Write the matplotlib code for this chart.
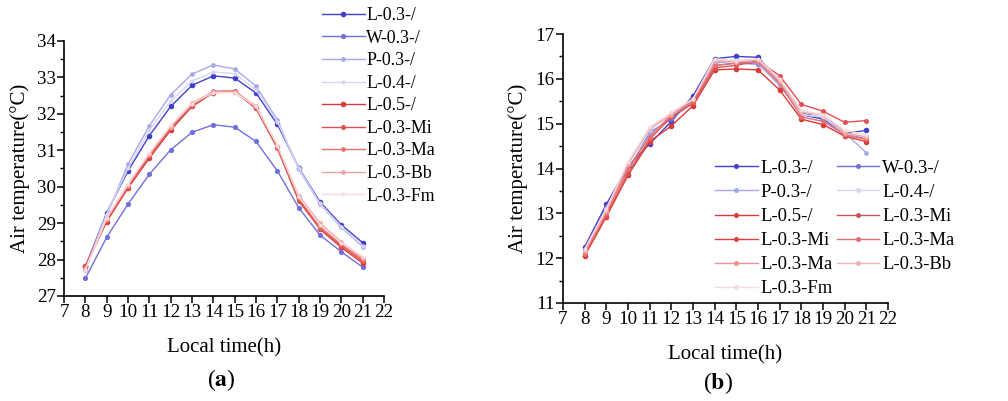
import numpy as np
import matplotlib
matplotlib.use("Agg")
import matplotlib.pyplot as plt
from matplotlib.lines import Line2D
from matplotlib.ticker import MultipleLocator

plt.rcParams['font.family'] = ['Liberation Serif', 'DejaVu Serif']
plt.rcParams['mathtext.fontset'] = 'stix'

hours = list(range(8, 22))

names = ['L-0.3-/', 'W-0.3-/', 'P-0.3-/', 'L-0.4-/', 'L-0.5-/',
         'L-0.3-Mi', 'L-0.3-Ma', 'L-0.3-Bb', 'L-0.3-Fm']
colors = ['#4040cc', '#7070da', '#a8a8ea', '#d6d6f3', '#d93a3a',
          '#e05252', '#e87070', '#f0a4a4', '#f7dada']
msizes = [3.0, 2.7, 2.4, 2.0, 3.0, 2.6, 2.4, 2.4, 1.8]

# (a) summer air temperature
temp_a = {
    'L-0.3-/':  [27.80, 29.28, 30.43, 31.40, 32.20, 32.78, 33.04, 32.98, 32.57, 31.71, 30.52, 29.58, 28.95, 28.46],
    'W-0.3-/':  [27.48, 28.61, 29.52, 30.34, 31.01, 31.49, 31.70, 31.63, 31.24, 30.43, 29.42, 28.67, 28.21, 27.79],
    'P-0.3-/':  [27.72, 29.20, 30.62, 31.67, 32.52, 33.09, 33.34, 33.23, 32.76, 31.83, 30.48, 29.52, 28.88, 28.35],
    'L-0.4-/':  [27.75, 29.25, 30.50, 31.55, 32.35, 32.90, 33.15, 33.10, 32.65, 31.78, 30.50, 29.54, 28.90, 28.38],
    'L-0.5-/':  [27.82, 29.04, 29.96, 30.78, 31.55, 32.20, 32.58, 32.60, 32.15, 31.08, 29.66, 28.83, 28.33, 27.90],
    'L-0.3-Mi': [27.80, 29.08, 30.00, 30.85, 31.60, 32.22, 32.60, 32.62, 32.15, 31.05, 29.60, 28.85, 28.38, 27.95],
    'L-0.3-Ma': [27.78, 29.10, 30.02, 30.88, 31.62, 32.25, 32.62, 32.63, 32.18, 31.10, 29.70, 28.90, 28.42, 28.00],
    'L-0.3-Bb': [27.75, 29.12, 30.05, 30.90, 31.65, 32.30, 32.60, 32.60, 32.22, 31.12, 29.75, 29.00, 28.48, 28.05],
    'L-0.3-Fm': [27.72, 29.15, 30.08, 30.92, 31.68, 32.28, 32.58, 32.58, 32.20, 31.15, 29.72, 28.95, 28.45, 28.08],
}

# (b) winter air temperature
temp_b = {
    'L-0.3-/':  [12.25, 13.20, 14.05, 14.55, 15.05, 15.62, 16.45, 16.50, 16.48, 15.95, 15.20, 15.10, 14.78, 14.85],
    'W-0.3-/':  [12.20, 13.15, 13.95, 14.80, 15.10, 15.50, 16.30, 16.35, 16.33, 15.90, 15.25, 15.12, 14.80, 14.65],
    'P-0.3-/':  [12.18, 13.10, 14.00, 14.75, 15.15, 15.50, 16.35, 16.40, 16.35, 15.85, 15.20, 15.15, 14.80, 14.35],
    'L-0.4-/':  [12.15, 13.10, 14.10, 14.85, 15.20, 15.50, 16.40, 16.42, 16.40, 15.95, 15.20, 15.15, 14.78, 14.70],
    'L-0.5-/':  [12.05, 12.92, 13.85, 14.60, 14.95, 15.40, 16.20, 16.22, 16.20, 15.75, 15.10, 14.98, 14.72, 14.60],
    'L-0.3-Mi': [12.10, 12.95, 13.90, 14.65, 15.15, 15.45, 16.25, 16.30, 16.40, 16.07, 15.43, 15.28, 15.03, 15.07],
    'L-0.3-Ma': [12.10, 13.00, 14.00, 14.70, 15.20, 15.50, 16.30, 16.35, 16.38, 15.90, 15.15, 15.05, 14.75, 14.65],
    'L-0.3-Bb': [12.15, 13.05, 14.10, 14.90, 15.20, 15.55, 16.40, 16.38, 16.42, 15.95, 15.25, 15.20, 14.80, 14.70],
    'L-0.3-Fm': [12.20, 13.10, 14.15, 14.92, 15.25, 15.55, 16.45, 16.40, 16.45, 16.00, 15.30, 15.20, 14.85, 14.75],
}

# legend of (b) as printed (two columns, some labels repeated)
legend_b_labels = ['L-0.3-/', 'P-0.3-/', 'L-0.5-/', 'L-0.3-Mi', 'L-0.3-Ma', 'L-0.3-Fm',
                   'W-0.3-/', 'L-0.4-/', 'L-0.3-Mi', 'L-0.3-Ma', 'L-0.3-Bb']
legend_b_colors = ['#4040cc', '#a8a8ea', '#d93a3a', '#e04040', '#f09090', '#f7dada',
                   '#7070da', '#d6d6f3', '#c85555', '#e07070', '#f0b4b4']

fig = plt.figure(figsize=(10.08, 4.01), dpi=100)
ax_a = fig.add_axes([0.0635, 0.262, 0.3175, 0.636])
ax_b = fig.add_axes([0.5585, 0.2444, 0.3225, 0.6708])


def style_axes(ax, ylim):
    ax.set_xlim(7, 22)
    ax.set_ylim(*ylim)
    ax.xaxis.set_major_locator(MultipleLocator(1))
    ax.yaxis.set_major_locator(MultipleLocator(1))
    ax.yaxis.set_minor_locator(MultipleLocator(0.5))
    ax.spines['top'].set_visible(False)
    ax.spines['right'].set_visible(False)
    for s in ('left', 'bottom'):
        ax.spines[s].set_linewidth(1.2)
    ax.tick_params(which='major', direction='out', length=5, width=1.1, labelsize=13.7, pad=1)
    ax.tick_params(which='minor', direction='out', length=3, width=1.0)
    ax.set_xlabel('Local time(h)', fontsize=15, labelpad=12)
    ax.set_ylabel('Air temperature(°C)', fontsize=15, labelpad=5)


for i, n in enumerate(names):
    ax_a.plot(hours, temp_a[n], color=colors[i], lw=1.0, marker='o',
              ms=msizes[i], label=n, clip_on=False)
    ax_b.plot(hours, temp_b[n], color=colors[i], lw=1.0, marker='o',
              ms=msizes[i], clip_on=False)

style_axes(ax_a, (27, 34))
style_axes(ax_b, (11, 17))

ax_a.legend(loc='upper left', bbox_to_anchor=(0.312, 1.0), bbox_transform=fig.transFigure,
            frameon=False, fontsize=12.9, handlelength=2.4, handletextpad=0.1,
            labelspacing=0.31, borderaxespad=0)

handles_b = [Line2D([], [], color=c, lw=1.0, marker='o', ms=2.6) for c in legend_b_colors]
ax_b.legend(handles_b, legend_b_labels, ncol=2, loc='upper left',
            bbox_to_anchor=(0.702, 0.62), bbox_transform=fig.transFigure,
            frameon=False, fontsize=13.4, handlelength=2.3, handletextpad=0.15,
            labelspacing=0.38, columnspacing=0.2, borderaxespad=0)

fig.text(0.220, 0.052, r'($\mathbf{a}$)', fontsize=17, ha='center', va='center')
fig.text(0.712, 0.045, r'($\mathbf{b}$)', fontsize=17, ha='center', va='center')

fig.savefig('out.png', dpi=100)
